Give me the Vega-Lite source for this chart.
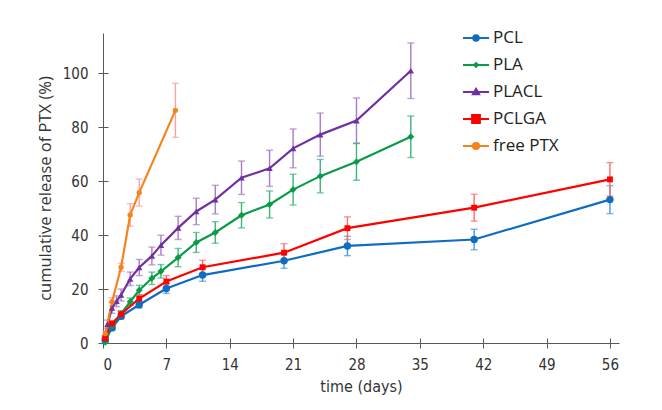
{
  "$schema": "https://vega.github.io/schema/vega-lite/v6.json",
  "width": 516,
  "height": 310,
  "autosize": {"type": "none"},
  "padding": {"left": 103, "top": 33, "right": 43, "bottom": 67},
  "background": "white",
  "config": {"view": {"stroke": null}, "font": "Open Sans"},
  "data": {
    "values": [
      {"s": "PCL", "t": 0.25, "v": 1.2, "e": 0.5},
      {"s": "PCL", "t": 1, "v": 5.6, "e": 0.8},
      {"s": "PCL", "t": 2, "v": 9.9, "e": 1.0},
      {"s": "PCL", "t": 4, "v": 14.2, "e": 1.2},
      {"s": "PCL", "t": 7, "v": 20.2, "e": 1.8},
      {"s": "PCL", "t": 11, "v": 25.2, "e": 2.3},
      {"s": "PCL", "t": 20, "v": 30.5, "e": 2.8},
      {"s": "PCL", "t": 27, "v": 36.0, "e": 3.6},
      {"s": "PCL", "t": 41, "v": 38.4, "e": 3.8},
      {"s": "PCL", "t": 56, "v": 53.2, "e": 5.2},
      {"s": "PLA", "t": 0.25, "v": 0.3, "e": 0.3},
      {"s": "PLA", "t": 1, "v": 6.3, "e": 1.0},
      {"s": "PLA", "t": 2, "v": 10.8, "e": 1.2},
      {"s": "PLA", "t": 3, "v": 15.3, "e": 1.4},
      {"s": "PLA", "t": 4, "v": 19.6, "e": 1.8},
      {"s": "PLA", "t": 5.4, "v": 24.0, "e": 2.3},
      {"s": "PLA", "t": 6.4, "v": 26.6, "e": 2.5},
      {"s": "PLA", "t": 8.3, "v": 31.7, "e": 3.4},
      {"s": "PLA", "t": 10.3, "v": 37.3, "e": 3.7},
      {"s": "PLA", "t": 12.4, "v": 41.0, "e": 4.0},
      {"s": "PLA", "t": 15.3, "v": 47.4, "e": 4.7},
      {"s": "PLA", "t": 18.4, "v": 51.4, "e": 5.0},
      {"s": "PLA", "t": 21, "v": 56.9, "e": 5.7},
      {"s": "PLA", "t": 24, "v": 61.9, "e": 6.2},
      {"s": "PLA", "t": 28, "v": 67.2, "e": 6.8},
      {"s": "PLA", "t": 34, "v": 76.5, "e": 7.7},
      {"s": "PLACL", "t": 0.25, "v": 1.5, "e": 0.5},
      {"s": "PLACL", "t": 0.5, "v": 7.0, "e": 1.5},
      {"s": "PLACL", "t": 1, "v": 13.0, "e": 2.0},
      {"s": "PLACL", "t": 1.5, "v": 15.5, "e": 2.0},
      {"s": "PLACL", "t": 2, "v": 17.8, "e": 2.2},
      {"s": "PLACL", "t": 3, "v": 23.8, "e": 2.5},
      {"s": "PLACL", "t": 4, "v": 28.0, "e": 3.0},
      {"s": "PLACL", "t": 5.4, "v": 32.3, "e": 3.3},
      {"s": "PLACL", "t": 6.4, "v": 36.3, "e": 3.7},
      {"s": "PLACL", "t": 8.3, "v": 42.7, "e": 4.3},
      {"s": "PLACL", "t": 10.3, "v": 48.8, "e": 4.9},
      {"s": "PLACL", "t": 12.4, "v": 53.2, "e": 5.3},
      {"s": "PLACL", "t": 15.3, "v": 61.3, "e": 6.2},
      {"s": "PLACL", "t": 18.4, "v": 64.8, "e": 6.7},
      {"s": "PLACL", "t": 21, "v": 72.2, "e": 7.2},
      {"s": "PLACL", "t": 24, "v": 77.3, "e": 8.0},
      {"s": "PLACL", "t": 28, "v": 82.5, "e": 8.4},
      {"s": "PLACL", "t": 34, "v": 101.0, "e": 10.3},
      {"s": "PCLGA", "t": 0.25, "v": 1.9, "e": 0.6},
      {"s": "PCLGA", "t": 1, "v": 7.2, "e": 1.0},
      {"s": "PCLGA", "t": 2, "v": 10.7, "e": 1.2},
      {"s": "PCLGA", "t": 4, "v": 16.5, "e": 1.5},
      {"s": "PCLGA", "t": 7, "v": 22.8, "e": 2.2},
      {"s": "PCLGA", "t": 11, "v": 28.1, "e": 2.6},
      {"s": "PCLGA", "t": 20, "v": 33.5, "e": 3.3},
      {"s": "PCLGA", "t": 27, "v": 42.6, "e": 4.2},
      {"s": "PCLGA", "t": 41, "v": 50.2, "e": 5.0},
      {"s": "PCLGA", "t": 56, "v": 60.7, "e": 6.2},
      {"s": "free PTX", "t": 0.25, "v": 3.5, "e": 1.0},
      {"s": "free PTX", "t": 1, "v": 15.3, "e": 1.5},
      {"s": "free PTX", "t": 2, "v": 28.1, "e": 1.5},
      {"s": "free PTX", "t": 3, "v": 47.5, "e": 4.2},
      {"s": "free PTX", "t": 4, "v": 55.8, "e": 5.0},
      {"s": "free PTX", "t": 8, "v": 86.3, "e": 10.0}
    ]
  },
  "resolve": {"scale": {"color": "independent"}, "axis": {"x": "independent", "y": "independent"}},
  "layer": [
    {
      "mark": {"type": "errorbar", "ticks": true, "size": 7, "thickness": 1.4},
      "encoding": {
        "x": {"field": "t", "type": "quantitative", "scale": {"domain": [0, 57], "nice": false}, "axis": null},
        "y": {"field": "v", "type": "quantitative", "scale": {"domain": [0, 115], "nice": false}, "axis": null},
        "yError": {"field": "e"},
        "color": {
          "field": "s", "type": "nominal",
          "scale": {"domain": ["PCL", "PLA", "PLACL", "PCLGA", "free PTX"], "range": ["#4a94dc", "#3db47a", "#a67cc8", "#ff6a6a", "#f7a3a3"]},
          "legend": null
        }
      }
    },
    {
      "mark": {"type": "line", "strokeWidth": 2.2},
      "encoding": {
        "x": {
          "field": "t", "type": "quantitative", "scale": {"domain": [0, 57], "nice": false},
          "axis": {"orient": "top", "offset": -310, "labels": false, "domain": false, "title": null, "tickSize": 5, "tickColor": "#595959", "values": [0, 7, 14, 21, 28, 35, 42, 49, 56], "grid": false}
        },
        "y": {
          "field": "v", "type": "quantitative", "scale": {"domain": [0, 115], "nice": false},
          "axis": {"orient": "right", "offset": -516, "labels": false, "domain": false, "title": null, "tickSize": 5, "tickColor": "#595959", "values": [0, 20, 40, 60, 80, 100], "grid": false}
        },
        "color": {
          "field": "s", "type": "nominal",
          "scale": {"domain": ["PCL", "PLA", "PLACL", "PCLGA", "free PTX"], "range": ["#0f6cc0", "#0b9a48", "#7030a0", "#ff0000", "#f5841f"]},
          "legend": {
            "orient": "none", "legendX": 359, "legendY": -9, "title": null,
            "symbolSize": 676, "symbolStrokeWidth": 2,
            "labelFont": "Open Sans", "labelFontSize": 17, "labelColor": "#222222", "labelOffset": 3, "labelLimit": 200,
            "rowPadding": 5,
            "encode": {
              "symbols": {
                "update": {
                  "shape": {"signal": "datum.value === 'PCL' ? 'M-1,0H1M0.21,0A0.21,0.21,0,1,1,-0.21,0A0.21,0.21,0,1,1,0.21,0Z' : datum.value === 'PLA' ? 'M-1,0H1M0,-0.15L0.15,0L0,0.15L-0.15,0Z' : datum.value === 'PLACL' ? 'M-1,0H1M0,-0.24L0.24,0.17L-0.24,0.17Z' : datum.value === 'PCLGA' ? 'M-1,0H1M-0.3,-0.3H0.3V0.3H-0.3Z' : 'M-1,0H1M0.24,0A0.24,0.24,0,1,1,-0.24,0A0.24,0.24,0,1,1,0.24,0Z'"},
                  "fill": {"signal": "datum.value === 'PCL' ? '#0f6cc0' : datum.value === 'PLA' ? '#0b9a48' : datum.value === 'PLACL' ? '#7030a0' : datum.value === 'PCLGA' ? '#ff0000' : '#f5841f'"},
                  "stroke": {"signal": "datum.value === 'PCL' ? '#0f6cc0' : datum.value === 'PLA' ? '#0b9a48' : datum.value === 'PLACL' ? '#7030a0' : datum.value === 'PCLGA' ? '#ff0000' : '#f5841f'"},
                  "strokeWidth": {"value": 2},
                  "size": {"value": 676},
                  "opacity": {"value": 1}
                }
              }
            }
          }
        }
      }
    },
    {
      "mark": {"type": "point", "filled": true, "opacity": 1},
      "encoding": {
        "x": {
          "field": "t", "type": "quantitative", "scale": {"domain": [0, 57], "nice": false},
          "axis": {"title": "time (days)", "values": [0, 7, 14, 21, 28, 35, 42, 49, 56], "tickSize": 5, "labelPadding": 9, "labelFont": "DejaVu Sans Condensed", "labelFontSize": 15, "labelColor": "#333333", "titleFont": "DejaVu Sans Condensed", "titleFontSize": 16, "titleFontWeight": "normal", "titleColor": "#333333", "titlePadding": 6, "domainColor": "#595959", "tickColor": "#595959", "grid": false}
        },
        "y": {
          "field": "v", "type": "quantitative", "scale": {"domain": [0, 115], "nice": false},
          "axis": {"title": "cumulative release of PTX (%)", "values": [0, 20, 40, 60, 80, 100], "tickSize": 5, "labelPadding": 10, "labelFont": "DejaVu Sans Condensed", "labelFontSize": 15, "labelColor": "#333333", "titleFont": "Open Sans", "titleFontSize": 16.5, "titleFontWeight": "normal", "titleColor": "#333333", "titlePadding": 9, "domainColor": "#595959", "tickColor": "#595959", "grid": false}
        },
        "color": {
          "field": "s", "type": "nominal",
          "scale": {"domain": ["PCL", "PLA", "PLACL", "PCLGA", "free PTX"], "range": ["#0f6cc0", "#0b9a48", "#7030a0", "#ff0000", "#f5841f"]},
          "legend": null
        },
        "shape": {
          "field": "s", "type": "nominal",
          "scale": {"domain": ["PCL", "PLA", "PLACL", "PCLGA", "free PTX"], "range": ["circle", "diamond", "triangle-up", "square", "circle"]},
          "legend": null
        },
        "size": {
          "field": "s", "type": "nominal",
          "scale": {"domain": ["PCL", "PLA", "PLACL", "PCLGA", "free PTX"], "range": [55, 28, 45, 95, 90]},
          "legend": null
        }
      }
    }
  ]
}
